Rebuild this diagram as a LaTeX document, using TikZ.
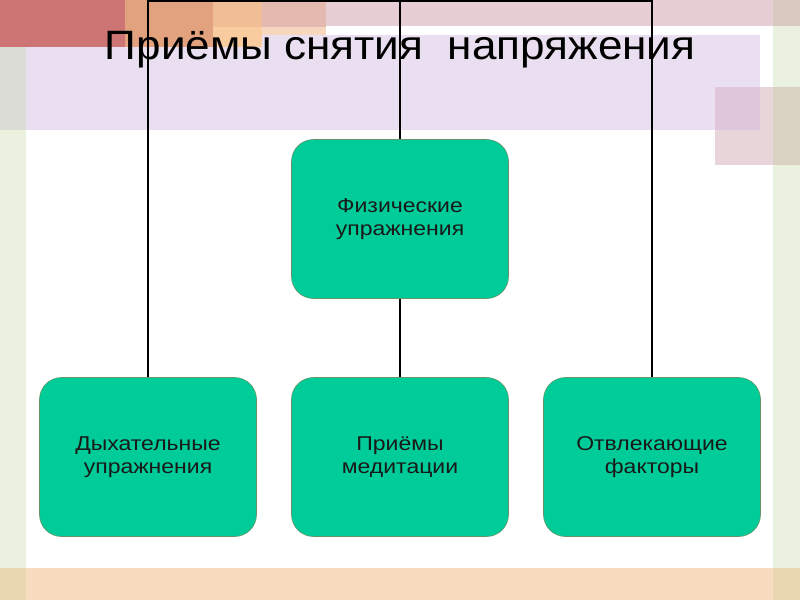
\documentclass[tikz,border=0pt]{standalone}
\usepackage{fontspec}
\setmainfont{Liberation Sans}
\newfontfamily\boxfont[FakeStretch=1.15]{Liberation Sans}
\newfontfamily\titlefont[FakeStretch=1.075]{Liberation Sans}
\begin{document}
\begin{tikzpicture}[x=1pt,y=-1pt,
  box/.style={draw=black!70!green!60, line width=0.6pt, fill=boxgreen, rounded corners=22pt,
    minimum width=217pt, minimum height=159pt, align=center, text=black!90,
    font=\boxfont\fontsize{20}{23}\selectfont, inner sep=0pt},
  conn/.style={draw=black, line width=1.8pt}]
\definecolor{boxgreen}{HTML}{00CC99}
\definecolor{cred}{HTML}{CD7474}
\definecolor{corange}{HTML}{E3A27E}
\definecolor{cor2a}{HTML}{F0BE94}
\definecolor{cor2b}{HTML}{F8CC9E}
\definecolor{cpk1a}{HTML}{E4BAB0}
\definecolor{cpk1b}{HTML}{F7D8BE}
\definecolor{cpktop}{HTML}{E7CED4}
\definecolor{ccorner}{HTML}{D9C9C1}
\definecolor{cgrey}{HTML}{DCDCD6}
\definecolor{cgreen}{HTML}{EBF1DF}
\definecolor{cbot}{HTML}{F8DCC0}
\definecolor{cbotc}{HTML}{E8D7B0}
\definecolor{clav}{HTML}{EADFF0}
\definecolor{cpsq}{HTML}{E8D5DA}
\definecolor{cpsqlav}{HTML}{DFC6DA}
\definecolor{cpsqgr}{HTML}{D9D2C2}
\useasboundingbox (0,0) rectangle (800,600);
% background
\fill[white] (0,0) rectangle (800,600);
\fill[clav] (26,35) rectangle (760,130);
\fill[cred] (0,0) rectangle (125,47);
\fill[corange] (125,0) rectangle (213,47);
\fill[cor2a] (213,0) rectangle (262,27);
\fill[cor2b] (213,27) rectangle (262,47);
\fill[cpk1a] (262,0) rectangle (326,27);
\fill[cpk1b] (262,27) rectangle (326,35);
\fill[cpktop] (326,0) rectangle (773,26);
\fill[ccorner] (773,0) rectangle (800,26);
\fill[cgrey] (0,47) rectangle (26,130);
\fill[cgreen] (0,130) rectangle (26,568);
\fill[cgreen] (773,26) rectangle (800,568);
\fill[cpsq] (715,87) rectangle (800,165);
\fill[cpsqlav] (715,87) rectangle (760,130);
\fill[cpsqgr] (773,87) rectangle (800,165);
\fill[cbot] (26,568) rectangle (773,600);
\fill[cbotc] (0,568) rectangle (26,600);
\fill[cbotc] (773,568) rectangle (800,600);
% title
\node[anchor=base, font=\titlefont\fontsize{41}{48}\selectfont, inner sep=0pt] (title) at (400,59) {Приёмы снятия\ \ напряжения};
% boxes
\node[box] (phys) at (400,219) {Физические\\упражнения};
\node[box] (breath) at (148,457) {Дыхательные\\упражнения};
\node[box] (med) at (400,457) {Приёмы\\медитации};
\node[box] (dist) at (652,457) {Отвлекающие\\факторы};
% connectors
\coordinate (top) at (400,1);
\draw[conn] (breath.north) |- (top) -| (dist.north);
\draw[conn] (top) -- (phys.north);
\draw[conn] (phys.south) -- (med.north);
\end{tikzpicture}
\end{document}
